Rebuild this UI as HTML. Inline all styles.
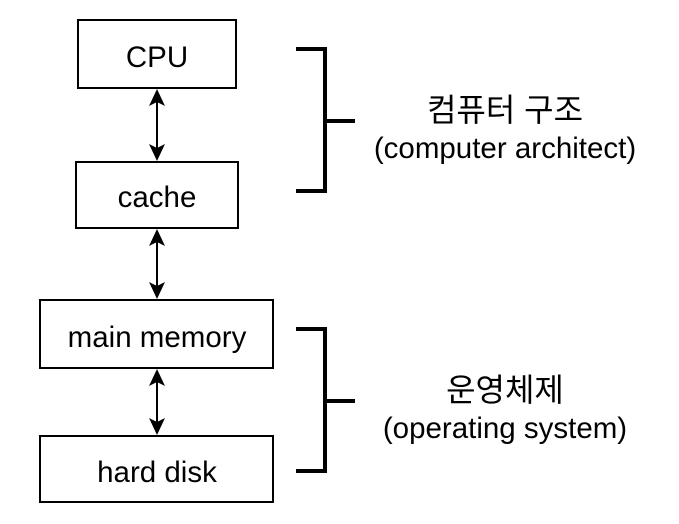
<!DOCTYPE html>
<html><head><meta charset="utf-8"><style>
body{margin:0;background:#fff;}
</style></head><body>
<svg width="679" height="524" xmlns="http://www.w3.org/2000/svg" style="display:block">
<g fill="#fff" stroke="#000" stroke-width="2">
<rect x="78" y="20" width="158" height="68"/>
<rect x="76" y="162" width="162" height="66"/>
<rect x="40" y="300" width="233" height="68"/>
<rect x="40" y="436" width="233" height="66"/>
</g>
<g stroke="#000" stroke-width="2">
<line x1="157" y1="100" x2="157" y2="150"/>
<line x1="157" y1="240" x2="157" y2="288"/>
<line x1="157" y1="380" x2="157" y2="424"/>
</g>
<g fill="#000">
<path d="M157,89 L165,106 L157,102 L149,106 Z"/>
<path d="M157,161 L165,144 L157,148 L149,144 Z"/>
<path d="M157,229 L165,246 L157,242 L149,246 Z"/>
<path d="M157,299 L165,282 L157,286 L149,282 Z"/>
<path d="M157,369 L165,386 L157,382 L149,386 Z"/>
<path d="M157,435 L165,418 L157,422 L149,418 Z"/>
</g>
<g fill="none" stroke="#000" stroke-width="4">
<polyline points="296,49 325,49 325,191 296,191"/>
<line x1="325" y1="121" x2="355" y2="121"/>
<polyline points="296,329 325,329 325,471 296,471"/>
<line x1="325" y1="401" x2="355" y2="401"/>
</g>
<g font-family="Liberation Sans, Noto Sans CJK KR, sans-serif" font-size="29.5" text-anchor="middle" fill="#000">
<text x="157" y="67">CPU</text>
<text x="157" y="207">cache</text>
<text x="157" y="347">main memory</text>
<text x="157" y="482">hard disk</text>
<text x="505" y="121" font-size="32">컴퓨터 구조</text>
<text x="505" y="158">(computer architect)</text>
<text x="505" y="401" font-size="32">운영체제</text>
<text x="505" y="438">(operating system)</text>
</g>
</svg>
</body></html>
